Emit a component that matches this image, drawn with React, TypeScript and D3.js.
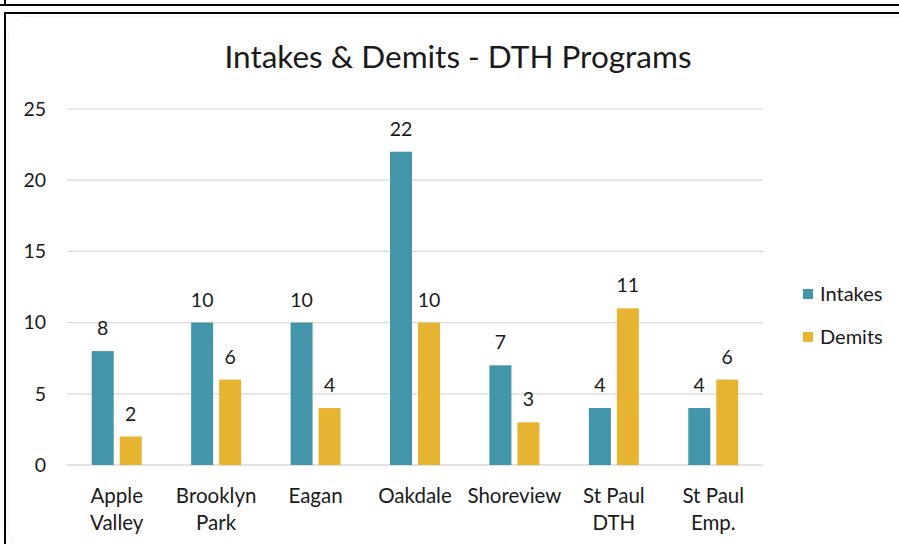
import { scaleBand, scaleLinear } from "d3"

const categories = [["Apple", "Valley"], ["Brooklyn", "Park"], ["Eagan"], ["Oakdale"], ["Shoreview"], ["St Paul", "DTH"], ["St Paul", "Emp."]]
const seriesNames = ["Intakes", "Demits"]
const intakes = [8, 10, 10, 22, 7, 4, 4]
const demits = [2, 6, 4, 10, 3, 11, 6]
const yTicks = [0, 5, 10, 15, 20, 25]
const colors = ["#4396a9", "#e6b430"]

const font = "Lato, 'Open Sans', sans-serif"

const App = () => {
    const width = 899
    const height = 544
    const values = [intakes, demits]

    const x = scaleBand<number>()
        .domain(categories.map((_, i) => i))
        .range([67, 763])
    const bw = x.bandwidth()
    const x1 = scaleBand<string>()
        .domain(seriesNames)
        .range([bw / 2 - 25, bw / 2 + 25])
        .paddingInner(0.214)
    const y = scaleLinear().domain([0, 25]).range([465, 109])

    return (
        <svg width={width} height={height} style={{ position: "absolute", left: 0, top: 0 }}>
            <rect width={width} height={height} fill="#fff" />
            {/* frames */}
            <line x1={0} x2={width} y1={5} y2={5} stroke="#000" strokeWidth={2} />
            <line x1={5} x2={5} y1={0} y2={5} stroke="#000" strokeWidth={2} />
            <line x1={4} x2={width} y1={13} y2={13} stroke="#000" strokeWidth={2} />
            <line x1={5} x2={5} y1={12} y2={height} stroke="#000" strokeWidth={2} />
            <rect x={8} y={16} width={920} height={534} rx={22} fill="none" stroke="#ececec" strokeWidth={0.8} />

            <text x={458} y={68} textAnchor="middle" fontFamily={font} fontSize={31.5} fill="#1a1a1a">
                Intakes &amp; Demits - DTH Programs
            </text>

            {yTicks.map(t => (
                <g key={t}>
                    <line x1={67} x2={763} y1={y(t)} y2={y(t)} stroke="#d9d9d9" strokeWidth={t === 0 ? 1.5 : 1.2} />
                    <text x={46} y={y(t)} dy="0.35em" textAnchor="end" fontFamily={font} fontSize={19.5} fill="#1a1a1a">{t}</text>
                </g>
            ))}

            {categories.map((lines, i) => (
                <g key={i} transform={`translate(${x(i)},0)`}>
                    {seriesNames.map((s, j) => {
                        const v = values[j][i]
                        return (
                            <g key={s}>
                                <rect x={x1(s)} y={y(v)} width={x1.bandwidth()} height={y(0) - y(v)} fill={colors[j]} />
                                <text x={(x1(s) ?? 0) + x1.bandwidth() / 2} y={y(v) - 16} textAnchor="middle" fontFamily={font} fontSize={19.5} fill="#1a1a1a">{v}</text>
                            </g>
                        )
                    })}
                    {lines.map((l, k) => (
                        <text key={k} x={bw / 2} y={503 + k * 27} textAnchor="middle" fontFamily={font} fontSize={20.5} fill="#1a1a1a">{l}</text>
                    ))}
                </g>
            ))}

            {seriesNames.map((s, j) => (
                <g key={s} transform={`translate(803,${294 + j * 43})`}>
                    <rect x={0} y={-5} width={10} height={10} fill={colors[j]} />
                    <text x={17} y={0} dy="0.35em" fontFamily={font} fontSize={20} fill="#1a1a1a">{s}</text>
                </g>
            ))}
        </svg>
    )
}

export default App
